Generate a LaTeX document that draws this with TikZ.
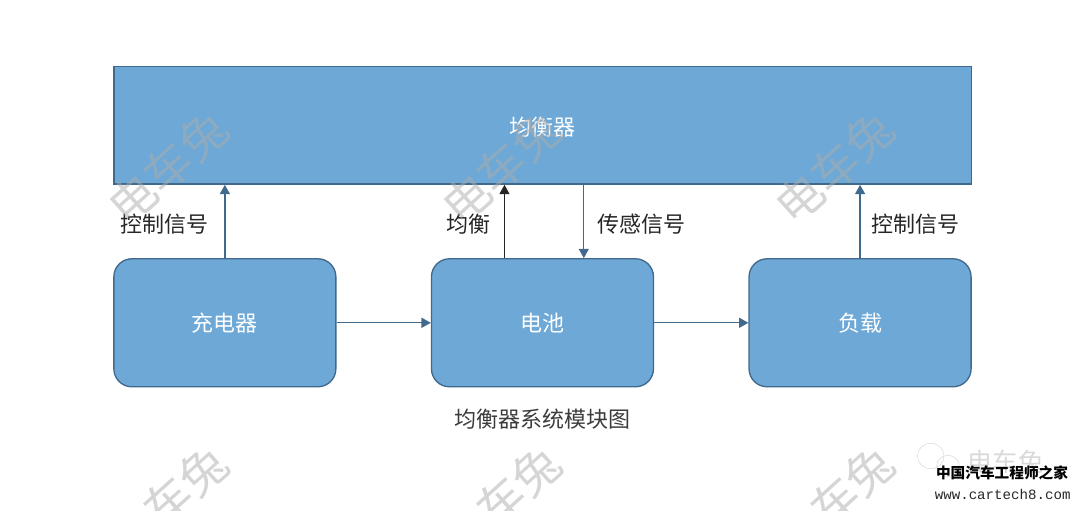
\documentclass[tikz,border=0pt]{standalone}
\usepackage{fontspec}
\setmainfont{Noto Sans CJK SC}
\setmonofont{Liberation Mono}
\usepackage{xcolor}
\usetikzlibrary{positioning}
\usetikzlibrary{shapes.geometric}
\usetikzlibrary{arrows.meta}
\definecolor{myblue}{RGB}{109, 168, 214}
\definecolor{myedge}{RGB}{65, 105, 140}
\definecolor{mytext}{RGB}{38, 38, 38}

\begin{document}
\begin{tikzpicture}[
            node distance=55pt and 70.7pt,
            box/.style={
                rectangle,
                draw=myedge,
                fill=myblue,
                line width=1pt,
                text=white,
                inner sep=0pt,
                font=\fontsize{16.5}{18}\selectfont
            },
            module/.style={
                box,
                rounded corners=13.5pt,
                minimum width=166.5pt,
                minimum height=96pt
            },
            tag/.style={text=mytext, inner sep=0pt, font=\fontsize{16.5}{18}\selectfont},
            link/.style={-{Triangle[length=7pt,width=7.5pt]}, line width=1pt, draw=myedge},
            wmark/.style={text=gray!65, opacity=0.5, rotate=42, inner sep=0pt, font=\fontsize{35}{38}\selectfont}
        ]
            \clip (0,0) rectangle (810pt,382.5pt);

            % Nodes
            \node[box, minimum width=643pt, minimum height=88pt] (balancer) at (406.9pt,288.4pt) {\raisebox{-1.5pt}[\height][\depth]{均衡器}};

            \node[module, below=55pt of balancer.south west, anchor=north west] (charger) {充电器};
            \node[module, right=of charger] (battery) {电池};
            \node[module, right=of battery] (load) {负载};

            \node[tag, text=mytext!90, below=16pt of battery] (caption) {均衡器系统模块图};

            \coordinate (balup) at ([xshift=-28.5pt]battery.north);
            \coordinate (sense) at ([xshift=31pt]battery.north);

            \node[tag, left=12pt of charger.north, anchor=east, yshift=25.5pt] (ctrlleft) {控制信号};
            \node[tag, left=10pt of balup, anchor=east, yshift=25.5pt] (ballabel) {均衡};
            \node[tag, right=10pt of sense, anchor=west, yshift=25.5pt] (senselabel) {传感信号};
            \node[tag, right=8pt of load.north, anchor=west, yshift=25.5pt] (ctrlright) {控制信号};

            % Arrows
            \draw[link] (charger.north) -- (charger.north |- balancer.south);
            \draw[link, draw=black!85] (balup) -- (balup |- balancer.south);
            \draw[link] (sense |- balancer.south) -- (sense);
            \draw[link] (load.north) -- (load.north |- balancer.south);
            \draw[link] (charger) -- (battery);
            \draw[link] (battery) -- (load);

            % Watermarks
            \foreach \wx/\wy/\wname in {126/257/a, 376/257/b, 626/257/c, 126/6/d, 376/6/e, 626/6/f} {
                \node[wmark] (wm\wname) at (\wx pt,\wy pt) {电车兔};
            }

            % Logo
            \node[text=gray!30, inner sep=0pt, font=\fontsize{19}{20}\selectfont] (logomark) at (754pt,36pt) {电车兔};
            \node[draw=gray!30, ellipse, minimum width=20pt, minimum height=19pt, inner sep=0pt] (bubblea) at (698pt,40.5pt) {};
            \node[draw=gray!30, ellipse, minimum width=17pt, minimum height=16pt, inner sep=0pt] (bubbleb) at (711pt,33pt) {};
            \node[text=black, inner sep=0pt, font=\fontsize{11}{12}\bfseries\selectfont] (logotitle) at (751.5pt,27.5pt) {中国汽车工程师之家};
            \node[text=black!85, inner sep=0pt, font=\ttfamily\fontsize{10.6}{12}\selectfont] (logourl) at (752pt,11.5pt) {www.cartech8.com};
        \end{tikzpicture}
\end{document}
